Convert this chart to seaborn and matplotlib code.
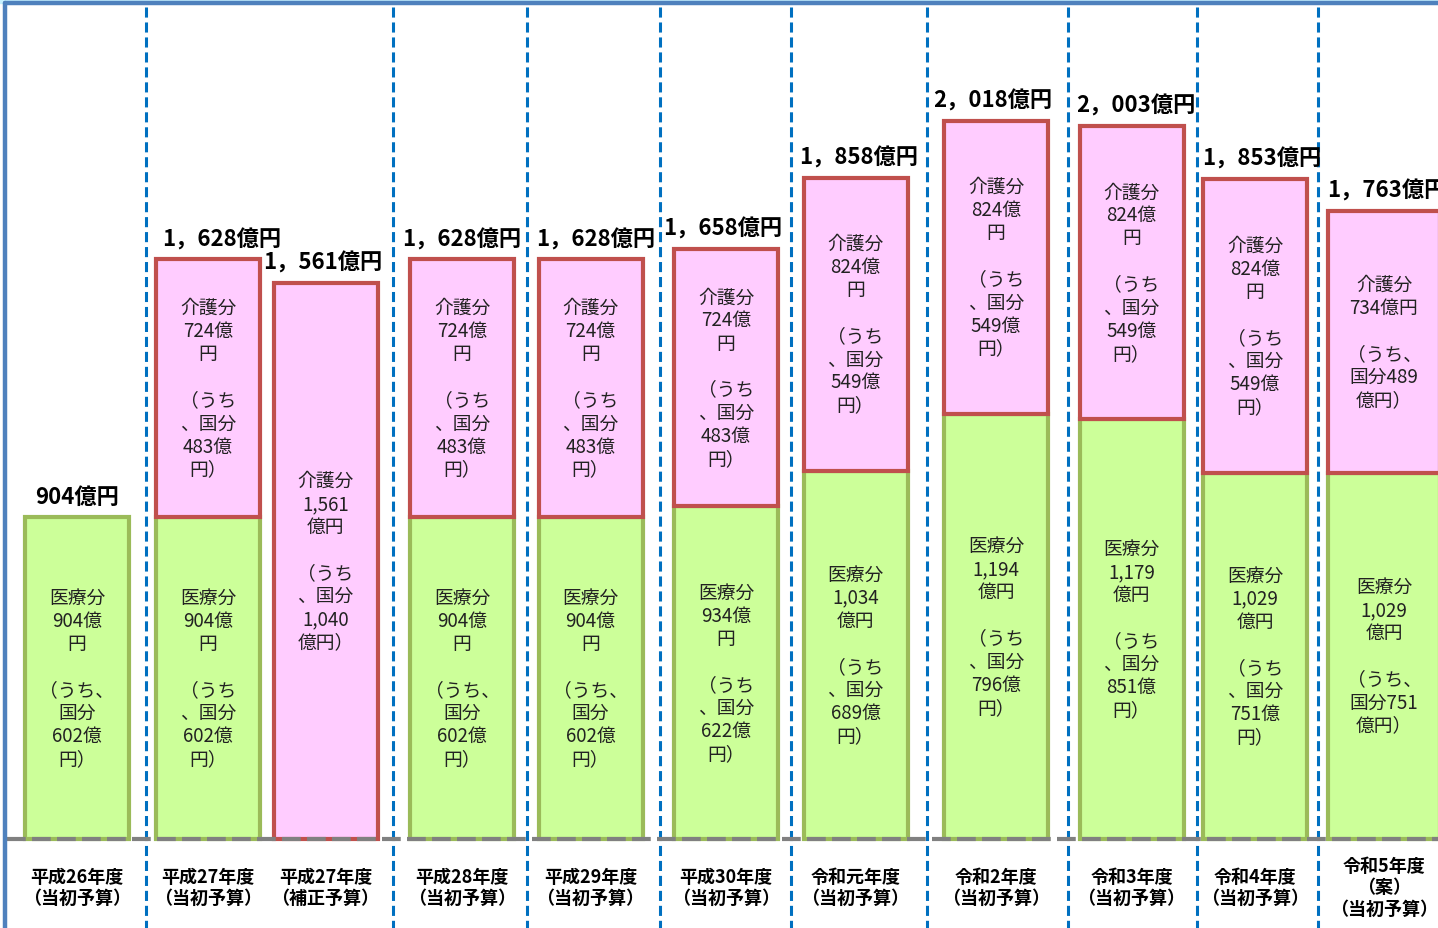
import matplotlib
matplotlib.use("Agg")
import matplotlib.pyplot as plt
import seaborn as sns

# --- data ---
categories = [
    "平成26年度\n（当初予算）", "平成27年度\n（当初予算）", "平成27年度\n（補正予算）",
    "平成28年度\n（当初予算）", "平成29年度\n（当初予算）", "平成30年度\n（当初予算）",
    "令和元年度\n（当初予算）", "令和2年度\n（当初予算）", "令和3年度\n（当初予算）",
    "令和4年度\n（当初予算）", "令和5年度\n（案）\n（当初予算）",
]
iryo = [904, 904, 0, 904, 904, 934, 1034, 1194, 1179, 1029, 1029]
kaigo = [0, 724, 1561, 724, 724, 724, 824, 824, 824, 824, 734]

iryo_text = [
    "医療分\n904億\n円\n\n（うち、\n国分\n602億\n円）",
    "医療分\n904億\n円\n\n（うち\n、国分\n602億\n円）",
    "",
    "医療分\n904億\n円\n\n（うち、\n国分\n602億\n円）",
    "医療分\n904億\n円\n\n（うち、\n国分\n602億\n円）",
    "医療分\n934億\n円\n\n（うち\n、国分\n622億\n円）",
    "医療分\n1,034\n億円\n\n（うち\n、国分\n689億\n円）",
    "医療分\n1,194\n億円\n\n（うち\n、国分\n796億\n円）",
    "医療分\n1,179\n億円\n\n（うち\n、国分\n851億\n円）",
    "医療分\n1,029\n億円\n\n（うち\n、国分\n751億\n円）",
    "医療分\n1,029\n億円\n\n（うち、\n国分751\n億円）",
]
kaigo_text = [
    "",
    "介護分\n724億\n円\n\n（うち\n、国分\n483億\n円）",
    "介護分\n1,561\n億円\n\n（うち\n、国分\n1,040\n億円）",
    "介護分\n724億\n円\n\n（うち\n、国分\n483億\n円）",
    "介護分\n724億\n円\n\n（うち\n、国分\n483億\n円）",
    "介護分\n724億\n円\n\n（うち\n、国分\n483億\n円）",
    "介護分\n824億\n円\n\n（うち\n、国分\n549億\n円）",
    "介護分\n824億\n円\n\n（うち\n、国分\n549億\n円）",
    "介護分\n824億\n円\n\n（うち\n、国分\n549億\n円）",
    "介護分\n824億\n円\n\n（うち\n、国分\n549億\n円）",
    "介護分\n734億円\n\n（うち、\n国分489\n億円）",
]

# --- layout (pixel-like x units) ---
centers = [77, 208, 325.5, 462, 590.5, 726, 855.5, 996, 1131.5, 1255, 1384]
widths = [104] * 10 + [112]
label_dx = [0, 14, -3, 0, 5, -3, 3, -3, 4, 7, 3]
separators = [146, 393, 527, 660, 791, 927, 1068, 1197, 1318]

W, H = 1438, 929
BASE_PX = 840
PX_PER_UNIT = 0.356


def ypx(p):
    return (BASE_PX - p) / PX_PER_UNIT


sns.set_theme(style="white")
plt.rcParams["font.family"] = ["Noto Sans CJK JP", "DejaVu Sans"]

fig = plt.figure(figsize=(W / 100, H / 100), dpi=100)
ax = fig.add_axes([0, 0, 1, 1])
ax.set_xlim(0, W)
ax.set_ylim(ypx(H), ypx(0))
ax.axis("off")

pink, pink_edge = "#FFCCFF", "#C0504D"
green, green_edge = "#CCFF99", "#9BBB59"

for i, c in enumerate(centers):
    if iryo[i] > 0:
        ax.bar(c, iryo[i], width=widths[i], bottom=0, color=green,
               edgecolor=green_edge, linewidth=3, zorder=2)
        ax.text(c, iryo[i] / 2, iryo_text[i], ha="center", va="center",
                fontsize=13.5, color="#222222", linespacing=1.13, zorder=3)
    if kaigo[i] > 0:
        ax.bar(c, kaigo[i], width=widths[i], bottom=iryo[i], color=pink,
               edgecolor=pink_edge, linewidth=3, zorder=2)
        ax.text(c, iryo[i] + kaigo[i] / 2, kaigo_text[i], ha="center", va="center",
                fontsize=13.5, color="#222222", linespacing=1.13, zorder=3)
    total = iryo[i] + kaigo[i]
    label = f"{total:,}".replace(",", "，") + "億円"
    ax.annotate(label, (c + label_dx[i], total), xytext=(0, 15),
                textcoords="offset points", ha="center", va="center",
                fontsize=16, fontweight="bold", color="black", zorder=4)
    ax.text(c, ypx(888), categories[i], ha="center", va="center",
            fontsize=13, fontweight="bold", color="black", linespacing=1.15)

# baseline
ax.plot([7, W], [0, 0], color="#808080", linewidth=3, dashes=(4.5, 1.5),
        zorder=5, solid_capstyle="butt")

# separators
for s in separators:
    ax.plot([s, s], [ypx(8), ypx(H)], color="#0070C0", linewidth=2.2,
            dashes=(3.3, 1.6), zorder=1)

# frame at top / left
ax.fill_between([0, W], ypx(4), ypx(0), color="#C6F0FF", zorder=0)
ax.plot([5, W], [ypx(4), ypx(4)], color="#4F81BD", linewidth=3.2, zorder=6)
ax.plot([5, 5], [ypx(4), ypx(H)], color="#4F81BD", linewidth=3.2, zorder=6)

fig.savefig("out.png", dpi=100, facecolor="white")
